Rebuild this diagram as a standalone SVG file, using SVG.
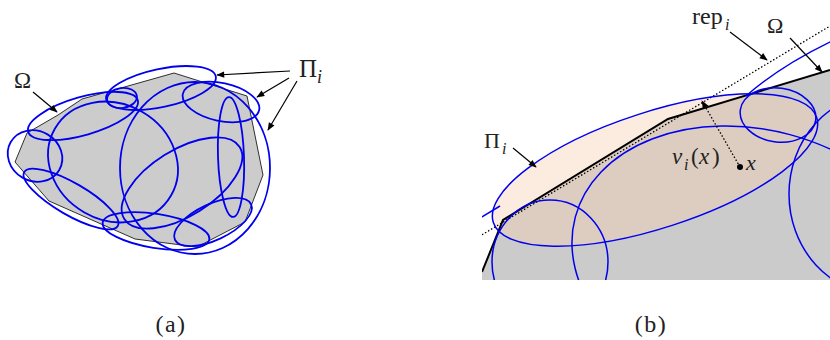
<svg xmlns="http://www.w3.org/2000/svg" width="830" height="340" viewBox="0 0 830 340">
<defs>
<style>
.poly{fill:#cccccc;stroke:#000;stroke-width:0.8}
.ell{fill:none;stroke:#0000ee;stroke-width:1.8}
.ellb{fill:none;stroke:#0000ee;stroke-width:1.5}
.arr{fill:none;stroke:#000;stroke-width:1.2;marker-end:url(#ah)}
.t{font-family:"Liberation Serif","DejaVu Serif",serif;fill:#222}
.ti{font-family:"Liberation Serif","DejaVu Serif",serif;font-style:italic;fill:#222}
.dot{fill:none;stroke:#000;stroke-width:1.3;stroke-dasharray:1.5 2}
</style>
<marker id="ah" viewBox="0 0 10 10" refX="9" refY="5" markerWidth="9" markerHeight="8" orient="auto" markerUnits="userSpaceOnUse">
<path d="M0,1 L10,5 L0,9 z" fill="#000"/>
</marker>
<clipPath id="cb"><rect x="482" y="0" width="348" height="280"/></clipPath>
</defs>

<g id="panel-a">
<polygon class="poly" points="174,73 247,96 263,175 245,222 197,247 135,239 49,201 15,162 27,133 58,115 82,99"/>
<ellipse class="ell" cx="35" cy="156" rx="28" ry="25" transform="rotate(30 35 156)"/>
<ellipse class="ell" cx="83" cy="116" rx="57" ry="19" transform="rotate(-16 83 116)"/>
<ellipse class="ell" cx="122" cy="98" rx="15" ry="10" transform="rotate(-8 122 98)"/>
<ellipse class="ell" cx="161" cy="88" rx="56" ry="19" transform="rotate(-12 161 88)"/>
<ellipse class="ell" cx="221" cy="102" rx="39" ry="19" transform="rotate(12 221 102)"/>
<ellipse class="ell" cx="231" cy="157" rx="13" ry="60" transform="rotate(-2 231 157)"/>
<ellipse class="ell" cx="71" cy="199" rx="54" ry="16" transform="rotate(30 71 199)"/>
<ellipse class="ell" cx="156" cy="231" rx="54" ry="17" transform="rotate(9 156 231)"/>
<ellipse class="ell" cx="213" cy="222" rx="42" ry="18" transform="rotate(-25 213 222)"/>
<ellipse class="ell" cx="113" cy="162" rx="67" ry="58" transform="rotate(30 113 162)"/>
<ellipse class="ell" cx="182" cy="183" rx="68" ry="33" transform="rotate(-32 182 183)"/>
<ellipse class="ell" cx="195" cy="168" rx="75" ry="86"/>
</g>

<g id="labels-a">
<text class="t" x="14" y="88" font-size="23">Ω</text>
<text class="t" x="299" y="77" font-size="25">Π</text>
<text class="ti" x="317" y="83" font-size="18">i</text>
</g>

<g id="arrows-a">
<line class="arr" x1="33" y1="92" x2="57" y2="112"/>
<line class="arr" x1="290" y1="71" x2="217" y2="75"/>
<line class="arr" x1="289" y1="78" x2="257" y2="97"/>
<line class="arr" x1="297" y1="81" x2="268" y2="130"/>
</g>

<g id="panel-b" clip-path="url(#cb)">
<polygon points="482,272 503,220 668,119 830,70 830,280 482,280" fill="#cbcbcb"/>
<ellipse cx="655" cy="170" rx="170" ry="58" transform="rotate(-18 655 170)" fill="#f7cfb1" fill-opacity="0.4"/>
<line class="dot" x1="470" y1="242" x2="840" y2="20"/>
<polyline points="482,272 503,220 668,119 830,70" fill="none" stroke="#000" stroke-width="2"/>
<ellipse class="ellb" cx="655" cy="170" rx="170" ry="58" transform="rotate(-18 655 170)"/>
<path class="ellb" d="M480,218 Q490,212 500,206"/>
<ellipse class="ellb" cx="550" cy="262" rx="58" ry="62"/>
<ellipse class="ellb" cx="755" cy="265" rx="186" ry="135" transform="rotate(15 755 265)"/>
<ellipse class="ellb" cx="880" cy="194" rx="91" ry="100"/>
<ellipse class="ellb" cx="778" cy="115" rx="38" ry="27" transform="rotate(8 778 115)"/>
<path class="ellb" d="M746,96 Q780,66 832,41"/>
</g>

<g id="connectors-b">
<line class="dot" x1="740" y1="167" x2="702" y2="101" marker-end="url(#ah)"/>
<circle cx="740" cy="167" r="3" fill="#000"/>
<line class="arr" x1="730" y1="32" x2="767" y2="60"/>
<line class="arr" x1="790" y1="38" x2="822" y2="72"/>
<line class="arr" x1="513" y1="148" x2="536" y2="167"/>
</g>

<g id="labels-b">
<text class="t" x="692" y="24" font-size="24">rep</text>
<text class="ti" x="725" y="30" font-size="16">i</text>
<text class="t" x="767" y="33" font-size="22">Ω</text>
<text class="t" x="484" y="148" font-size="22">Π</text>
<text class="ti" x="502" y="154" font-size="16">i</text>
<text class="ti" x="672" y="164" font-size="23">v</text>
<text class="ti" x="684" y="170" font-size="16">i</text>
<text class="t" x="691" y="164" font-size="23">(</text>
<text class="ti" x="699" y="164" font-size="23">x</text>
<text class="t" x="712" y="164" font-size="23">)</text>
<text class="ti" x="746" y="170" font-size="22">x</text>
</g>

<g id="captions">
<text class="t" x="171" y="332" font-size="24" text-anchor="middle" letter-spacing="1.5">(a)</text>
<text class="t" x="651" y="332" font-size="24" text-anchor="middle" letter-spacing="1.5">(b)</text>
</g>
</svg>
